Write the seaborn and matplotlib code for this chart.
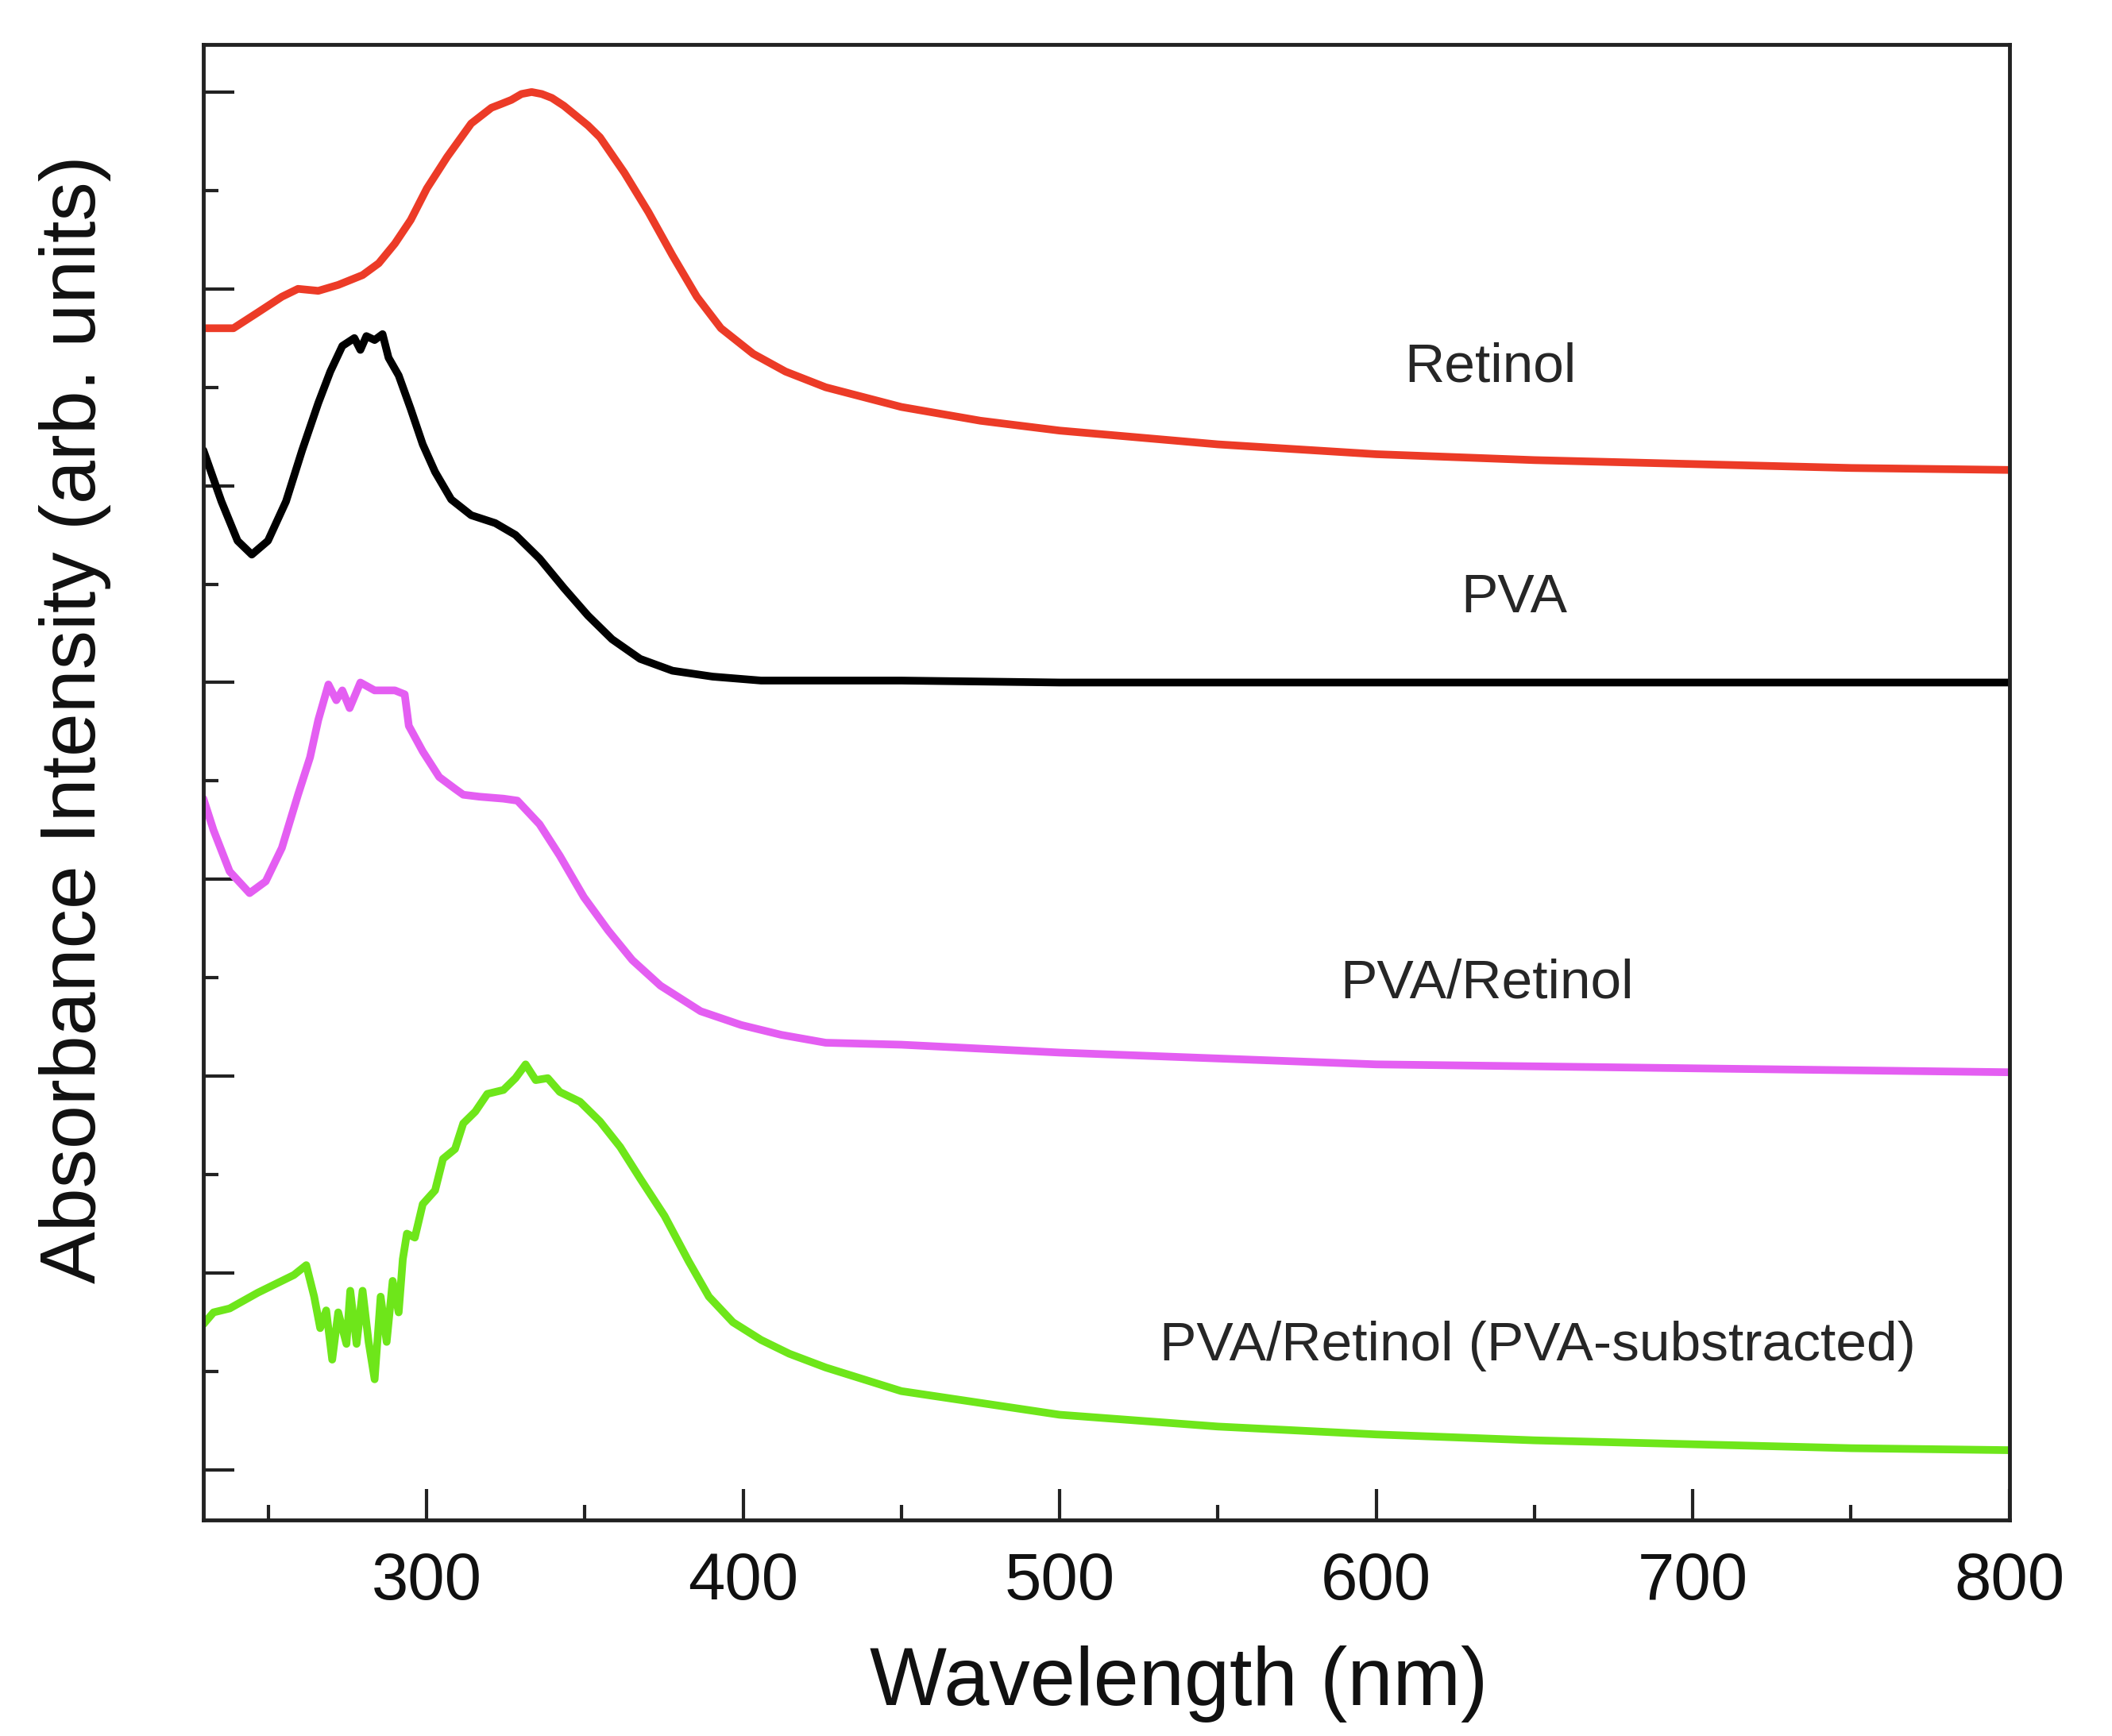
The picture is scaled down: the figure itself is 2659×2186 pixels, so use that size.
import pandas as pd
import numpy as np
import matplotlib
matplotlib.use("Agg")
import matplotlib.pyplot as plt
import seaborn as sns
from matplotlib.ticker import MultipleLocator

# Valores (unidades arbitrarias, curvas desplazadas)
retinol_wl = [229.5, 239, 246.7, 254.3, 259.4, 265.8, 272.1, 279.8, 284.9, 290,
              295, 300.1, 306.5, 314.1, 320.5, 323.7, 326.8, 330, 333.2, 336.4,
              339.6, 343.4, 347.2, 351, 354.8, 362.5, 370.1, 377.7, 385.4, 393,
              403.2, 413.4, 426.1, 450, 475, 500, 550, 600, 650, 700,
              750, 800]
retinol_abs = [5.80, 5.80, 5.88, 5.96, 6.00, 5.99, 6.02, 6.07, 6.13, 6.23,
               6.35, 6.51, 6.67, 6.84, 6.92, 6.94, 6.96, 6.99, 7.00, 6.99,
               6.97, 6.93, 6.88, 6.83, 6.77, 6.59, 6.39, 6.17, 5.96, 5.80,
               5.67, 5.58, 5.50, 5.40, 5.33, 5.28, 5.21, 5.16, 5.13, 5.11,
               5.09, 5.08]

pva_wl = [229.5, 235.2, 240.3, 244.8, 249.9, 255.6, 260.7, 265.8, 269.6, 273.4,
          277.2, 279.1, 281, 283.6, 286.1, 288, 291.2, 295, 298.8, 302.7,
          307.8, 314.1, 321.7, 328.1, 335.7, 343.4, 351, 358.6, 367.5, 377.7,
          390.4, 405.7, 426.1, 450, 500, 600, 700, 800]
pva_abs = [5.18, 4.92, 4.72, 4.65, 4.72, 4.92, 5.18, 5.42, 5.58, 5.71,
           5.75, 5.69, 5.76, 5.74, 5.77, 5.65, 5.56, 5.39, 5.21, 5.07,
           4.93, 4.85, 4.81, 4.75, 4.63, 4.48, 4.34, 4.22, 4.12, 4.06,
           4.03, 4.01, 4.01, 4.01, 4.0, 4.0, 4.0, 4.0]

mix_wl = [229.5, 232.7, 237.8, 244.1, 249.2, 254.3, 259.4, 263.2, 265.8, 269,
          271.5, 273.4, 275.7, 279.1, 283.6, 290, 293.1, 294.4, 298.8, 304,
          309, 311.6, 316.7, 324.3, 328.7, 335.7, 342.1, 349.7, 357.4, 365,
          373.9, 386.6, 399.4, 412.1, 426.1, 450, 500, 550, 600, 650,
          700, 750, 800]
mix_abs = [3.41, 3.25, 3.04, 2.93, 2.99, 3.16, 3.43, 3.62, 3.81, 3.99,
           3.91, 3.96, 3.87, 4.0, 3.96, 3.96, 3.94, 3.78, 3.65, 3.52,
           3.46, 3.43, 3.42, 3.41, 3.40, 3.28, 3.12, 2.91, 2.74, 2.59,
           2.46, 2.33, 2.26, 2.21, 2.17, 2.16, 2.12, 2.09, 2.06, 2.05,
           2.04, 2.03, 2.02]

sub_wl = [229.5, 232.7, 237.8, 246.7, 258.1, 262, 264.5, 266.4, 268.3, 270.2,
          272.1, 274.7, 275.9, 277.9, 279.8, 281.7, 283.6, 285.5, 287.4, 289.3,
          291.2, 292.5, 293.8, 296.3, 298.8, 302.7, 305.2, 309, 311.6, 315.4,
          319.2, 324.3, 328.1, 331.3, 334.5, 338.3, 342.1, 348.5, 354.8, 361.2,
          367.5, 375.2, 382.8, 389.2, 396.8, 405.7, 414.6, 426.1, 450, 500,
          550, 600, 650, 700, 750, 800]
sub_abs = [0.74, 0.80, 0.82, 0.90, 0.99, 1.04, 0.88, 0.72, 0.81, 0.56,
           0.80, 0.64, 0.91, 0.64, 0.91, 0.65, 0.46, 0.88, 0.65, 0.96,
           0.80, 1.07, 1.20, 1.18, 1.35, 1.42, 1.58, 1.63, 1.76, 1.82,
           1.91, 1.93, 1.99, 2.06, 1.98, 1.99, 1.92, 1.87, 1.77, 1.64,
           1.48, 1.29, 1.06, 0.88, 0.75, 0.66, 0.59, 0.52, 0.40, 0.28,
           0.22, 0.18, 0.15, 0.13, 0.11, 0.10]

muestras = ["Retinol", "PVA", "PVA/Retinol", "PVA/Retinol (PVA-substracted)"]
colores = ["#ec3b27", "#000000", "#e45ef2", "#6ee61a"]
etiqueta_x = [636.0, 643.5, 635.0, 651.0]
etiqueta_y = [5.60, 4.43, 2.47, 0.63]

# Tabla larga para seaborn
series = [(retinol_wl, retinol_abs), (pva_wl, pva_abs),
          (mix_wl, mix_abs), (sub_wl, sub_abs)]
frames = []
for nombre, (wl, ab) in zip(muestras, series):
    frames.append(pd.DataFrame({"wl": wl, "abs": ab, "muestra": nombre}))
datos = pd.concat(frames, ignore_index=True)

sns.set_style("ticks")
plt.rcParams["font.family"] = ["Liberation Sans", "DejaVu Sans"]

fig = plt.figure(figsize=(26.59, 21.86), dpi=100)
ax = fig.add_axes([0.0963, 0.1244, 0.8550, 0.8498])

sns.lineplot(data=datos, x="wl", y="abs", hue="muestra", hue_order=muestras,
             palette=dict(zip(muestras, colores)), estimator=None,
             linewidth=7, legend=False, ax=ax)
for ln in ax.get_lines():
    ln.set_solid_joinstyle("round")

for nombre, tx, ty in zip(muestras, etiqueta_x, etiqueta_y):
    ax.text(tx, ty, nombre, ha="center", va="center", fontsize=50,
            color="#262626")

ax.set_xlim(229.5, 800)
ax.set_ylim(-0.255, 7.24)
ax.xaxis.set_major_locator(MultipleLocator(100))
ax.xaxis.set_minor_locator(MultipleLocator(50))
ax.yaxis.set_major_locator(MultipleLocator(1))
ax.yaxis.set_minor_locator(MultipleLocator(0.5))
ax.set_yticklabels([])

ax.tick_params(which="both", direction="in", width=3, color="#222222",
               top=False, right=False)
ax.tick_params(which="major", length=28, pad=28, labelsize=60,
               labelcolor="#111111")
ax.tick_params(which="minor", length=14)
ax.tick_params(axis="y", which="both", labelleft=False)

for sp in ax.spines.values():
    sp.set_linewidth(3.5)
    sp.set_color("#222222")

ax.set_xlabel("Wavelength (nm)", fontsize=74, color="#111111")
ax.set_ylabel("Absorbance Intensity (arb. units)", fontsize=71,
              color="#111111")
ax.xaxis.set_label_coords(0.540, -0.085)
ax.yaxis.set_label_coords(-0.051, 0.543)

fig.savefig("out.png", dpi=100, facecolor="white")
